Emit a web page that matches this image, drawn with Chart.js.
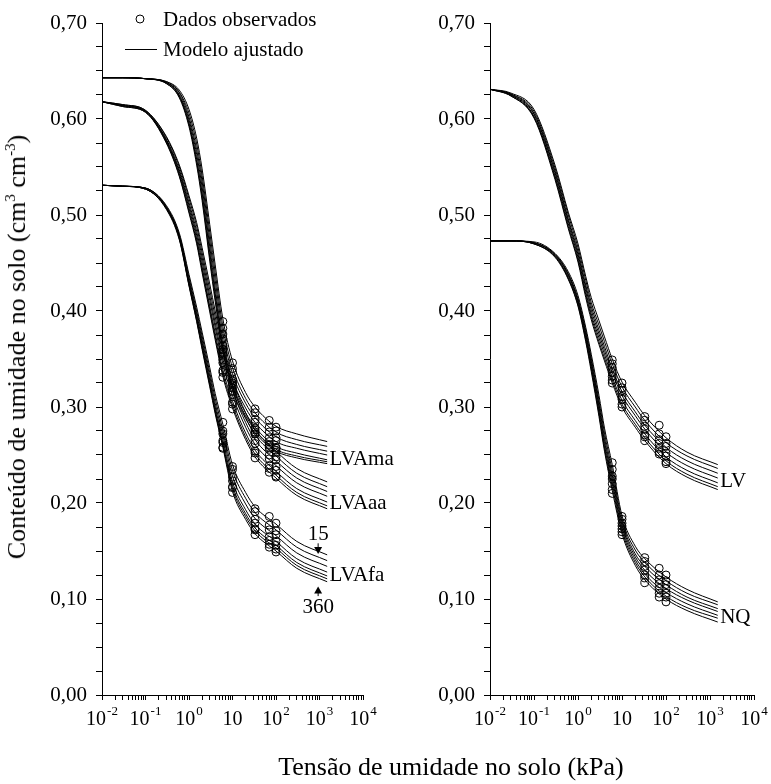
<!DOCTYPE html>
<html lang="pt-BR">
<head>
  <meta charset="UTF-8">
  <title>Curvas de retenção de água no solo</title>
  <script src="https://cdn.jsdelivr.net/npm/chart.js"></script>
  <style>
    body { margin: 0; background: #fff; overflow: hidden; }
    #wrap { position: relative; width: 771px; height: 784px; font-family: "Liberation Serif", "Times New Roman", serif; color: #000; }
    canvas { position: absolute; top: 0; }
    #left { left: 0; }
    #right { left: 390px; }
    .titulo { position: absolute; font-size: 26px; white-space: nowrap; line-height: 1; }
    #tituloX { left: 451px; top: 767px; transform: translate(-50%, -50%); }
    #tituloY { left: 17px; top: 347px; transform: translate(-50%, -50%) rotate(-90deg); }
    sup { font-size: 15px; vertical-align: 10px; line-height: 0; }
  </style>
  <script>
    addEventListener("DOMContentLoaded", init);

    const FONT = '"Liberation Serif", "Times New Roman", serif';

    // tensões (kPa) onde as curvas foram lidas
    const tensao = [0.01, 0.03, 0.1, 0.3, 0.6, 1, 1.5, 2, 3, 4, 6, 10, 20, 33, 100, 300, 1500];
    // tensões dos dados observados
    const tensaoObs = [6, 10, 33, 70, 100];

    const decadas = [0.01, 0.1, 1, 10, 100, 1000, 10000];
    const expoentes = ['-2', '-1', '0', '', '2', '3', '4'];

    // curvas ajustadas, de 15 (em cima) a 360 (embaixo)
    const lvamaCurvas = [
      [0.643,0.643,0.642,0.639,0.630,0.610,0.580,0.548,0.490,0.448,0.392,0.348,0.315,0.300,0.280,0.272,0.264],
      [0.643,0.643,0.642,0.639,0.628,0.606,0.574,0.541,0.482,0.440,0.384,0.341,0.309,0.294,0.274,0.266,0.259],
      [0.643,0.643,0.642,0.638,0.627,0.602,0.568,0.535,0.474,0.432,0.377,0.335,0.304,0.289,0.269,0.261,0.254],
      [0.643,0.643,0.642,0.638,0.625,0.599,0.563,0.529,0.467,0.424,0.370,0.329,0.299,0.284,0.264,0.257,0.250],
      [0.643,0.643,0.642,0.638,0.624,0.596,0.558,0.523,0.461,0.418,0.365,0.324,0.294,0.279,0.259,0.252,0.245],
      [0.643,0.643,0.642,0.637,0.623,0.594,0.555,0.519,0.456,0.414,0.361,0.321,0.291,0.276,0.256,0.249,0.243],
      [0.643,0.643,0.642,0.637,0.622,0.592,0.552,0.515,0.452,0.410,0.358,0.318,0.288,0.273,0.254,0.247,0.241]
    ];
    const lvaaaCurvas = [
      [0.618,0.615,0.609,0.582,0.552,0.520,0.492,0.466,0.428,0.400,0.362,0.328,0.294,0.276,0.254,0.236,0.222],
      [0.618,0.615,0.609,0.581,0.550,0.517,0.488,0.461,0.422,0.394,0.356,0.322,0.289,0.271,0.249,0.231,0.217],
      [0.618,0.614,0.608,0.579,0.547,0.513,0.483,0.456,0.416,0.388,0.350,0.317,0.284,0.266,0.244,0.226,0.212],
      [0.618,0.614,0.608,0.578,0.545,0.510,0.479,0.451,0.411,0.383,0.345,0.312,0.279,0.261,0.239,0.221,0.207],
      [0.618,0.614,0.608,0.577,0.543,0.507,0.475,0.446,0.405,0.377,0.339,0.306,0.273,0.255,0.233,0.215,0.201],
      [0.618,0.613,0.607,0.576,0.541,0.504,0.472,0.443,0.402,0.373,0.335,0.302,0.269,0.251,0.229,0.211,0.197],
      [0.618,0.613,0.607,0.575,0.540,0.502,0.470,0.440,0.399,0.370,0.332,0.299,0.266,0.248,0.226,0.208,0.194]
    ];
    const lvafaCurvas = [
      [0.531,0.530,0.528,0.510,0.481,0.438,0.404,0.378,0.341,0.314,0.282,0.240,0.211,0.196,0.178,0.160,0.146],
      [0.531,0.530,0.528,0.509,0.479,0.435,0.400,0.374,0.336,0.309,0.276,0.234,0.205,0.190,0.172,0.154,0.140],
      [0.531,0.530,0.528,0.508,0.478,0.432,0.397,0.370,0.332,0.304,0.271,0.228,0.199,0.184,0.166,0.148,0.134],
      [0.531,0.530,0.528,0.508,0.477,0.430,0.394,0.367,0.328,0.300,0.266,0.222,0.193,0.178,0.160,0.142,0.128],
      [0.531,0.530,0.527,0.507,0.476,0.428,0.392,0.364,0.325,0.297,0.262,0.218,0.189,0.174,0.156,0.138,0.124],
      [0.531,0.530,0.527,0.507,0.475,0.427,0.390,0.362,0.323,0.295,0.260,0.215,0.186,0.171,0.153,0.135,0.121],
      [0.531,0.530,0.527,0.506,0.474,0.426,0.389,0.360,0.321,0.293,0.258,0.212,0.183,0.168,0.150,0.132,0.118]
    ];
    const lvCurvas = [
      [0.631,0.627,0.610,0.552,0.503,0.470,0.436,0.414,0.390,0.373,0.350,0.326,0.305,0.291,0.268,0.253,0.240],
      [0.631,0.626,0.608,0.549,0.500,0.466,0.432,0.409,0.385,0.368,0.345,0.321,0.300,0.286,0.263,0.249,0.236],
      [0.631,0.626,0.606,0.546,0.496,0.462,0.427,0.405,0.380,0.363,0.340,0.316,0.295,0.281,0.258,0.244,0.231],
      [0.631,0.625,0.605,0.544,0.494,0.459,0.424,0.401,0.376,0.359,0.336,0.312,0.291,0.277,0.253,0.239,0.226],
      [0.631,0.625,0.603,0.541,0.491,0.456,0.420,0.397,0.372,0.355,0.331,0.307,0.286,0.272,0.248,0.234,0.221],
      [0.631,0.624,0.602,0.539,0.488,0.453,0.417,0.394,0.368,0.351,0.328,0.303,0.282,0.268,0.244,0.230,0.217],
      [0.631,0.624,0.601,0.537,0.486,0.451,0.414,0.391,0.365,0.348,0.325,0.300,0.279,0.265,0.241,0.227,0.214]
    ];
    const nqCurvas = [
      [0.473,0.473,0.472,0.460,0.441,0.416,0.383,0.355,0.312,0.278,0.240,0.187,0.155,0.142,0.123,0.110,0.097],
      [0.473,0.473,0.471,0.459,0.439,0.413,0.380,0.351,0.307,0.273,0.234,0.183,0.151,0.138,0.119,0.106,0.094],
      [0.473,0.473,0.471,0.459,0.438,0.411,0.377,0.348,0.303,0.268,0.229,0.180,0.147,0.134,0.115,0.102,0.090],
      [0.473,0.473,0.471,0.458,0.437,0.410,0.375,0.345,0.300,0.264,0.225,0.177,0.144,0.130,0.111,0.099,0.087],
      [0.473,0.473,0.470,0.457,0.435,0.408,0.372,0.342,0.296,0.260,0.221,0.174,0.141,0.126,0.107,0.095,0.083],
      [0.473,0.473,0.470,0.457,0.434,0.406,0.370,0.340,0.293,0.257,0.217,0.171,0.138,0.123,0.103,0.091,0.080],
      [0.473,0.473,0.470,0.456,0.433,0.405,0.368,0.337,0.290,0.254,0.213,0.168,0.135,0.120,0.100,0.088,0.076]
    ];

    // dados observados, uma linha por tensão de tensaoObs
    const lvamaObs = [
      [0.389, 0.382, 0.376, 0.371, 0.364, 0.360, 0.355],
      [0.346, 0.340, 0.336, 0.329, 0.325, 0.320, 0.317],
      [0.298, 0.294, 0.287, 0.284, 0.278, 0.276, 0.272],
      [0.286, 0.279, 0.274, 0.268, 0.264, 0.261, 0.258],
      [0.279, 0.275, 0.268, 0.265, 0.258, 0.257, 0.253]
    ];
    const lvaaaObs = [
      [0.360, 0.357, 0.349, 0.346, 0.338, 0.336, 0.331],
      [0.327, 0.323, 0.316, 0.313, 0.305, 0.303, 0.298],
      [0.274, 0.272, 0.265, 0.262, 0.254, 0.252, 0.247],
      [0.260, 0.256, 0.250, 0.246, 0.239, 0.236, 0.232],
      [0.255, 0.248, 0.245, 0.238, 0.234, 0.228, 0.227]
    ];
    const lvafaObs = [
      [0.284, 0.275, 0.272, 0.265, 0.263, 0.258, 0.257],
      [0.238, 0.235, 0.227, 0.223, 0.217, 0.216, 0.211],
      [0.194, 0.191, 0.183, 0.179, 0.173, 0.172, 0.167],
      [0.186, 0.177, 0.172, 0.165, 0.161, 0.157, 0.154],
      [0.179, 0.171, 0.167, 0.160, 0.156, 0.152, 0.149]
    ];
    const lvObs = [
      [0.349, 0.345, 0.341, 0.336, 0.332, 0.328, 0.325],
      [0.325, 0.320, 0.317, 0.311, 0.308, 0.303, 0.300],
      [0.290, 0.286, 0.280, 0.277, 0.271, 0.269, 0.265],
      [0.281, 0.272, 0.266, 0.262, 0.257, 0.253, 0.251],
      [0.269, 0.262, 0.259, 0.252, 0.249, 0.243, 0.241]
    ];
    const nqObs = [
      [0.242, 0.235, 0.228, 0.225, 0.220, 0.214, 0.210],
      [0.186, 0.183, 0.179, 0.176, 0.173, 0.170, 0.167],
      [0.143, 0.139, 0.134, 0.130, 0.125, 0.122, 0.117],
      [0.132, 0.125, 0.120, 0.116, 0.111, 0.106, 0.102],
      [0.125, 0.119, 0.115, 0.111, 0.106, 0.102, 0.097]
    ];

    function init() {
      makeChart(document.getElementById("left"),
        [{curvas: lvamaCurvas, obs: lvamaObs}, {curvas: lvaaaCurvas, obs: lvaaaObs}, {curvas: lvafaCurvas, obs: lvafaObs}],
        102, 47,
        {
          legenda: true,
          textos: [
            {t: 'LVAma', x: 1700, y: 0.245},
            {t: 'LVAaa', x: 1700, y: 0.200},
            {t: 'LVAfa', x: 1700, y: 0.125}
          ],
          setas: [
            {t: '15', x: 930, y: 0.167, de: 0.158, ate: 0.147},
            {t: '360', x: 930, y: 0.091, de: 0.103, ate: 0.113}
          ]
        });

      makeChart(document.getElementById("right"),
        [{curvas: lvCurvas, obs: lvObs}, {curvas: nqCurvas, obs: nqObs}],
        100, 17,
        {
          legenda: false,
          textos: [
            {t: 'LV', x: 1700, y: 0.222},
            {t: 'NQ', x: 1700, y: 0.081}
          ],
          setas: []
        });
    }

    function ticksX() {
      let t = [];
      for (let e = -2; e < 4; e++) {
        for (let m = 1; m < 10; m++) t.push({value: m * Math.pow(10, e)});
      }
      t.push({value: 10000});
      return t;
    }

    function ticksY() {
      let t = [];
      for (let i = 0; i <= 28; i++) t.push({value: i * 25 / 1000});
      return t;
    }

    function makeChart(canvas, familias, largY, padRight, extras) {
      let datasets = [];
      for (let fam of familias) {
        for (let c of fam.curvas) {
          datasets.push({
            data: tensao.map((t, i) => ({x: t, y: c[i]})),
            showLine: true,
            borderColor: '#000',
            borderWidth: 1,
            pointRadius: 0,
            cubicInterpolationMode: 'monotone'
          });
        }
        let pts = [];
        tensaoObs.forEach((t, j) => fam.obs[j].forEach(v => pts.push({x: t, y: v})));
        datasets.push({
          data: pts,
          showLine: false,
          pointStyle: 'circle',
          pointRadius: 4,
          borderColor: '#000',
          borderWidth: 1,
          backgroundColor: 'rgba(0,0,0,0)'
        });
      }

      return new Chart(canvas, {
        type: 'scatter',
        data: {datasets: datasets},
        options: {
          responsive: false,
          animation: false,
          events: [],
          layout: {padding: {top: 23, right: padRight, bottom: 0, left: 0}},
          plugins: {legend: {display: false}, tooltip: {enabled: false}},
          scales: {
            x: {
              type: 'logarithmic',
              min: 0.01,
              max: 10000,
              afterBuildTicks: s => { s.ticks = ticksX(); },
              afterFit: s => { s.height = 89; },
              ticks: {display: false},
              grid: {drawOnChartArea: false, tickLength: 5, tickColor: '#000', tickWidth: 1},
              border: {color: '#000', width: 1}
            },
            y: {
              min: 0,
              max: 0.7,
              afterBuildTicks: s => { s.ticks = ticksY(); },
              afterFit: s => { s.width = largY; },
              ticks: {
                autoSkip: false,
                color: '#000',
                padding: 9,
                font: {family: FONT, size: 21},
                callback: v => Math.abs(v * 10 - Math.round(v * 10)) < 1e-6 ? v.toFixed(2).replace('.', ',') : ''
              },
              grid: {drawOnChartArea: false, tickLength: 6, tickColor: '#000', tickWidth: 1},
              border: {color: '#000', width: 1}
            }
          }
        },
        plugins: [rotulos(extras)]
      });
    }

    // rótulos do eixo x (10 com expoente), nomes das curvas, setas e legenda
    function rotulos(extras) {
      return {
        id: 'rotulos',
        afterDraw(chart) {
          const ctx = chart.ctx, sx = chart.scales.x, sy = chart.scales.y;
          ctx.save();
          ctx.fillStyle = '#000';
          ctx.strokeStyle = '#000';
          ctx.lineWidth = 1;

          decadas.forEach((d, i) => {
            let px = sx.getPixelForValue(d);
            ctx.font = '20px ' + FONT;
            let w1 = ctx.measureText('10').width;
            ctx.font = '13px ' + FONT;
            let w2 = expoentes[i] ? ctx.measureText(expoentes[i]).width + 1 : 0;
            let x0 = px - (w1 + w2) / 2;
            ctx.textAlign = 'left';
            ctx.textBaseline = 'alphabetic';
            ctx.font = '20px ' + FONT;
            ctx.fillText('10', x0, sx.top + 30);
            ctx.font = '13px ' + FONT;
            ctx.fillText(expoentes[i], x0 + w1 + 1, sx.top + 20);
          });

          ctx.font = '21px ' + FONT;
          ctx.textBaseline = 'middle';
          ctx.textAlign = 'left';
          for (let r of extras.textos) {
            ctx.fillText(r.t, sx.getPixelForValue(r.x), sy.getPixelForValue(r.y));
          }

          ctx.textAlign = 'center';
          for (let s of extras.setas) {
            let px = sx.getPixelForValue(s.x);
            ctx.fillText(s.t, px, sy.getPixelForValue(s.y));
            let y1 = sy.getPixelForValue(s.de), y2 = sy.getPixelForValue(s.ate);
            let dir = y2 > y1 ? 1 : -1;
            ctx.beginPath();
            ctx.moveTo(px, y1);
            ctx.lineTo(px, y2 - dir * 4);
            ctx.stroke();
            ctx.beginPath();
            ctx.moveTo(px, y2);
            ctx.lineTo(px - 4, y2 - dir * 7);
            ctx.lineTo(px + 4, y2 - dir * 7);
            ctx.closePath();
            ctx.fill();
          }

          if (extras.legenda) {
            ctx.textAlign = 'left';
            ctx.beginPath();
            ctx.arc(140, 19, 4, 0, Math.PI * 2);
            ctx.stroke();
            ctx.fillText('Dados observados', 163, 20);
            ctx.beginPath();
            ctx.moveTo(125, 49.5);
            ctx.lineTo(157, 49.5);
            ctx.stroke();
            ctx.fillText('Modelo ajustado', 163, 50);
          }
          ctx.restore();
        }
      };
    }
  </script>
</head>
<body>
  <div id="wrap">
    <canvas id="left" width="410" height="784"></canvas>
    <canvas id="right" width="381" height="784"></canvas>
    <div id="tituloY" class="titulo">Conteúdo de umidade no solo (cm<sup>3</sup> cm<sup>-3</sup>)</div>
    <div id="tituloX" class="titulo">Tensão de umidade no solo (kPa)</div>
  </div>
</body>
</html>
